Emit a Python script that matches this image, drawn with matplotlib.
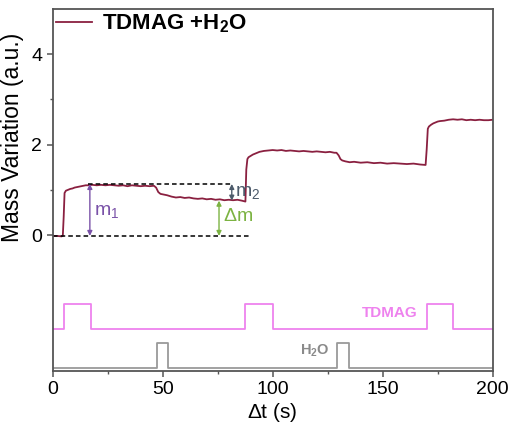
import numpy as np
import matplotlib.pyplot as plt

plt.rcParams['font.family'] = ['Liberation Sans', 'DejaVu Sans']
plt.rcParams['mathtext.fontset'] = 'custom'
plt.rcParams['mathtext.rm'] = 'Liberation Sans'
plt.rcParams['mathtext.it'] = 'Liberation Sans'
plt.rcParams['mathtext.bf'] = 'Liberation Sans:bold'

# mass signal
t_mass = [0, 2, 4, 4.6, 5.0, 5.4, 6, 7, 8, 9, 10, 11, 12, 13, 14, 15, 16,
          18, 20, 22, 24, 26, 28, 30, 32, 34, 36, 38, 40, 42, 44, 46,
          47, 48, 49, 50, 52, 54, 56, 58, 60, 62, 64, 66, 68, 70, 72, 74, 76, 78, 80, 82, 84, 86, 87.6,
          88.0, 88.5, 89, 90, 91, 92, 93, 94, 96, 98, 100, 102, 104, 106, 108, 110, 112, 114, 116, 118,
          120, 122, 124, 126, 128, 129,
          130, 130.8, 131.6, 133, 135, 137, 140, 143, 146, 149, 152, 155, 158, 161, 164, 167, 169.5,
          170, 170.5, 171, 172, 173, 174, 175, 176, 178, 180, 182, 184, 186, 188, 190, 192, 194, 196, 198, 200]
mass = [-0.02, -0.02, -0.03, -0.02, 0.40, 0.93, 0.98, 1.00, 1.02, 1.03, 1.05, 1.06, 1.07, 1.08, 1.09, 1.10, 1.10,
        1.11, 1.10, 1.11, 1.10, 1.11, 1.10, 1.09, 1.10, 1.08, 1.10, 1.09, 1.08, 1.09, 1.08, 1.09,
        1.05, 0.95, 0.91, 0.90, 0.88, 0.85, 0.83, 0.84, 0.82, 0.83, 0.81, 0.80, 0.81, 0.79, 0.80, 0.78, 0.79, 0.77, 0.78, 0.77, 0.78, 0.76, 0.74,
        1.45, 1.68, 1.72, 1.75, 1.78, 1.80, 1.82, 1.84, 1.86, 1.87, 1.88, 1.87, 1.88, 1.86, 1.87, 1.86, 1.85, 1.86, 1.85, 1.84,
        1.85, 1.84, 1.83, 1.84, 1.82, 1.82,
        1.76, 1.68, 1.65, 1.63, 1.61, 1.62, 1.60, 1.61, 1.59, 1.60, 1.58, 1.59, 1.58, 1.57, 1.58, 1.56, 1.55,
        1.90, 2.35, 2.40, 2.44, 2.47, 2.49, 2.51, 2.52, 2.53, 2.55, 2.56, 2.55, 2.56, 2.54, 2.55, 2.54, 2.55, 2.54, 2.54, 2.55]

# pulse sequences (valve open = 1)
tdmag_edges = [0, 5, 17.5, 87.5, 100, 170, 182, 200]
tdmag_state = [0, 1, 0, 1, 0, 1, 0, 0]
h2o_edges = [0, 47.3, 52.3, 129.4, 134.8, 200]
h2o_state = [0, 1, 0, 1, 0, 0]

m_base, m_top = -0.02, 1.13   # dashed reference levels
m_after = 0.76

fig = plt.figure(figsize=(5.09, 4.28), dpi=100)
ax = fig.add_axes([0.1035, 0.134, 0.8645, 0.845])

ax.plot(t_mass, mass, color='#8a2040', lw=1.3, label=r'TDMAG +H$_\mathbf{2}$O')

tdmag_y = -2.08 + 0.55 * np.array(tdmag_state)
h2o_y = -2.94 + 0.55 * np.array(h2o_state)
ax.plot(tdmag_edges, tdmag_y, drawstyle='steps-post', color='#ee82ee', lw=1.3)
ax.plot(h2o_edges, h2o_y, drawstyle='steps-post', color='#9a9a9a', lw=1.3)
ax.text(166, -1.73, 'TDMAG', color='#ee82ee', fontsize=11, fontweight='bold', ha='right', va='center')
ax.text(126, -2.57, r'H$_\mathbf{2}$O', color='#8a8a8a', fontsize=10.5, fontweight='bold', ha='right', va='center')

# reference lines and arrows
ax.plot([0, 89.5], [m_base, m_base], 'k--', lw=1.1, dashes=(3, 2))
ax.plot([16, 81], [m_top, m_top], 'k--', lw=1.1, dashes=(3, 2))
arr = dict(arrowstyle='<|-|>', lw=1.0, mutation_scale=7, shrinkA=0, shrinkB=0)
ax.annotate('', xy=(16.9, m_base), xytext=(16.9, m_top), arrowprops=dict(arr, color='#7a52a8'))
ax.annotate('', xy=(75.6, m_base), xytext=(75.6, m_after), arrowprops=dict(arr, color='#7cb342'))
ax.annotate('', xy=(81.4, m_after), xytext=(81.4, m_top), arrowprops=dict(arr, color='#4d5b6b'))
ax.text(19, 0.52, r'm$_1$', color='#7a52a8', fontsize=14, va='center')
ax.text(77.5, 0.40, r'$\Delta$m', color='#7cb342', fontsize=14, va='center')
ax.text(83, 0.95, r'm$_2$', color='#4d5b6b', fontsize=14, va='center')

ax.set_xlim(0, 200)
ax.set_ylim(-3, 5)
ax.set_xticks([0, 50, 100, 150, 200])
ax.set_xticks([25, 75, 125, 175], minor=True)
ax.set_yticks([0, 2, 4])
ax.set_yticks([1, 3], minor=True)
ax.tick_params(which='major', direction='out', length=4, width=1.1, labelsize=14, color='#555555')
ax.tick_params(which='minor', direction='out', length=2.5, width=1.0, color='#555555')
for s in ax.spines.values():
    s.set_color('#555555')
    s.set_linewidth(1.3)

ax.set_xlabel(r'$\Delta$t (s)', fontsize=15, labelpad=2)
ax.set_ylabel('Mass Variation (a.u.)', fontsize=16.5)
ax.yaxis.set_label_coords(-0.066, 0.645)

leg = ax.legend(loc='upper left', bbox_to_anchor=(0, 1.0), frameon=False, handlelength=1.6,
                handletextpad=0.45, borderaxespad=0, borderpad=0.15,
                prop={'size': 16, 'weight': 'bold'})

fig.savefig('out.png', dpi=100)
